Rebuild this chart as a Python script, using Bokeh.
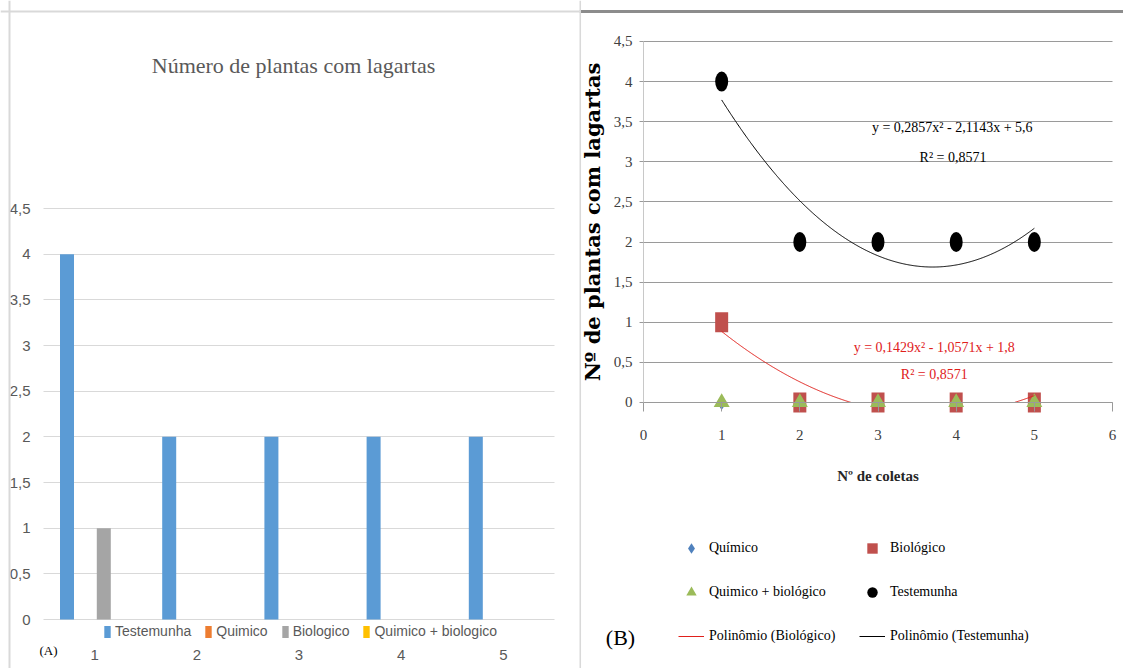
import numpy as np
from bokeh.plotting import figure
from bokeh.models import (ColumnDataSource, Legend, LegendItem, Label, Span, Grid,
                          CustomJSTickFormatter, FixedTicker, Range1d)
from bokeh.transform import dodge
from bokeh.layouts import row
from bokeh.embed import file_html
from bokeh.resources import INLINE

# ---------------- data ----------------
coletas = [1, 2, 3, 4, 5]
testemunha = [4, 2, 2, 2, 2]
quimico = [0, 0, 0, 0, 0]
biologico = [1, 0, 0, 0, 0]
quimico_biologico = [0, 0, 0, 0, 0]

bar_names = ["Testemunha", "Quimico", "Biologico", "Quimico + biologico"]
bar_colors = ["#5B9BD5", "#ED7D31", "#A5A5A5", "#FFC000"]
y_ticks = [0, 0.5, 1, 1.5, 2, 2.5, 3, 3.5, 4, 4.5]
x_ticks_b = [0, 1, 2, 3, 4, 5, 6]

title_a = "Número de plantas com lagartas"
eq_test = "y = 0,2857x² - 2,1143x + 5,6"
eq_bio = "y = 0,1429x² - 1,0571x + 1,8"
r2_text = "R² = 0,8571"

SANS = "Liberation Sans"
SERIF = "Liberation Serif"
HAS_CB = "cross_bounds" in Grid.properties()


def comma_fmt():
    return CustomJSTickFormatter(code="return tick.toString().replace('.', ',')")


# ---------------- panel A ----------------
src = ColumnDataSource(dict(c=coletas, t=testemunha, q=quimico, b=biologico, qb=quimico_biologico))
pa = figure(width=579, height=668, x_range=Range1d(0.0793, 5.7446), y_range=Range1d(-0.5365, 6.778),
            output_backend="svg", toolbar_location=None,
            min_border_left=0, min_border_right=0, min_border_top=0, min_border_bottom=0)
pa.outline_line_color = None
offsets = [-0.27, -0.09, 0.09, 0.27]
items_a = []
for col, off, colr, name in zip(["t", "q", "b", "qb"], offsets, bar_colors, bar_names):
    r = pa.vbar(x=dodge("c", off), top=col, width=0.137, source=src,
                fill_color=colr, line_color=None)
    items_a.append(LegendItem(label=name, renderers=[r]))

pa.xgrid.grid_line_color = None
if HAS_CB:
    pa.ygrid.grid_line_color = "#D9D9D9"
    pa.ygrid.ticker = FixedTicker(ticks=y_ticks)
    pa.ygrid.cross_bounds = (0.5, 5.5)
else:
    pa.ygrid.grid_line_color = None
    pa.segment(x0=0.5, x1=5.5, y0=y_ticks, y1=y_ticks, line_color="#D9D9D9", level="underlay")

pa.yaxis.fixed_location = 0.5
pa.yaxis.bounds = (0, 4.5)
pa.yaxis.ticker = FixedTicker(ticks=y_ticks)
pa.yaxis.formatter = comma_fmt()
pa.yaxis.major_label_standoff = 13
pa.xaxis.fixed_location = 0
pa.xaxis.bounds = (0.5, 5.5)
pa.xaxis.ticker = FixedTicker(ticks=coletas)
pa.xaxis.major_label_standoff = 30
for ax in (pa.xaxis[0], pa.yaxis[0]):
    ax.axis_line_color = None
    ax.major_tick_line_color = None
    ax.minor_tick_line_color = None
    ax.major_tick_out = 0
    ax.major_tick_in = 0
    ax.major_label_text_font = SANS
    ax.major_label_text_font_size = "15px"
    ax.major_label_text_color = "#595959"

leg_a = Legend(items=items_a, orientation="horizontal", location=(103, 29),
               glyph_width=8, glyph_height=15, label_standoff=4, spacing=13,
               padding=0, margin=0, border_line_color=None, background_fill_alpha=0,
               label_text_font=SANS, label_text_font_size="14px", label_text_color="#595959")
pa.add_layout(leg_a)

pa.add_layout(Label(x=2.946, y=6.066, text=title_a, text_align="center", text_baseline="middle",
                    text_font=SERIF, text_font_size="22px", text_color="#595959"))
pa.add_layout(Label(x=0.549, y=-0.339, text="(A)", text_align="center", text_baseline="middle",
                    text_font=SERIF, text_font_size="13px", text_color="#000000"))
# panel frame lines
pa.add_layout(Span(location=6.657, dimension="width", line_color="#D9D9D9", line_width=2))
pa.add_layout(Span(location=0.1673, dimension="height", line_color="#D9D9D9", line_width=2))

# ---------------- panel B ----------------
pb = figure(width=544, height=668, x_range=Range1d(-0.8187, 6.1405), y_range=Range1d(-3.316, 5.011),
            output_backend="svg", toolbar_location=None,
            min_border_left=0, min_border_right=0, min_border_top=0, min_border_bottom=0)
pb.outline_line_color = None

xb = np.array(coletas, dtype=float)
r_q = pb.scatter(xb, quimico, marker="diamond", size=15, fill_color="#4F81BD", line_color=None)
r_b = pb.rect(xb, biologico, width=13, height=20, width_units="screen", height_units="screen",
              fill_color="#C0504D", line_color=None)
r_qb = pb.scatter(xb, quimico_biologico, marker="triangle", size=16, fill_color="#9BBB59", line_color=None)
r_t = pb.ellipse(xb, testemunha, width=13, height=20, width_units="screen", height_units="screen",
                 fill_color="#000000", line_color=None)

xs = np.linspace(1, 5, 400)
fit_t = np.polyval(np.polyfit(xb, testemunha, 2), xs)
fit_b = np.polyval(np.polyfit(xb, biologico, 2), xs)
fit_b = np.where(fit_b < 0, np.nan, fit_b)
fit_t = np.where(fit_t < 0, np.nan, fit_t)
r_lb = pb.line(xs, fit_b, line_color="#E0201B", line_width=1)
r_lt = pb.line(xs, fit_t, line_color="#000000", line_width=1)

# legend proxies
p_sq = pb.scatter([np.nan], [np.nan], marker="square", size=12, fill_color="#C0504D", line_color=None)
p_ci = pb.scatter([np.nan], [np.nan], marker="circle", size=12, fill_color="#000000", line_color=None)

pb.xgrid.grid_line_color = None
if HAS_CB:
    pb.ygrid.grid_line_color = "#9a9a9a"
    pb.ygrid.ticker = FixedTicker(ticks=y_ticks)
    pb.ygrid.cross_bounds = (0, 6)
else:
    pb.ygrid.grid_line_color = None
    pb.segment(x0=0, x1=6, y0=y_ticks, y1=y_ticks, line_color="#9a9a9a", level="underlay")

pb.xaxis.fixed_location = 0
pb.xaxis.bounds = (0, 6)
pb.xaxis.ticker = FixedTicker(ticks=x_ticks_b)
pb.xaxis.axis_line_color = "#9a9a9a"
pb.xaxis.major_tick_line_color = "#9a9a9a"
pb.xaxis.major_tick_out = 9
pb.xaxis.major_tick_in = 0
pb.xaxis.minor_tick_line_color = None
pb.xaxis.major_label_standoff = 19
pb.yaxis.fixed_location = 0
pb.yaxis.bounds = (0, 4.5)
pb.yaxis.ticker = FixedTicker(ticks=y_ticks)
pb.yaxis.formatter = comma_fmt()
pb.yaxis.axis_line_color = "#c8c8c8"
pb.yaxis.major_tick_line_color = "#9a9a9a"
pb.yaxis.major_tick_out = 4
pb.yaxis.major_tick_in = 0
pb.yaxis.minor_tick_line_color = None
pb.yaxis.major_label_standoff = 7
for ax in (pb.xaxis[0], pb.yaxis[0]):
    ax.major_label_text_font = SERIF
    ax.major_label_text_font_size = "15px"
    ax.major_label_text_color = "#404040"
pb.xaxis.axis_label = "Nº de coletas"
pb.xaxis.axis_label_text_font = SERIF
pb.xaxis.axis_label_text_font_style = "bold"
pb.xaxis.axis_label_text_font_size = "15px"
pb.xaxis.axis_label_text_color = "#262626"
pb.xaxis.axis_label_standoff = 24
pb.yaxis.axis_label = "Nº de plantas com lagartas"
pb.yaxis.axis_label_text_font = "DejaVu Serif"
pb.yaxis.axis_label_text_font_style = "bold"
pb.yaxis.axis_label_text_font_size = "21px"
pb.yaxis.axis_label_text_color = "#000000"
pb.yaxis.axis_label_standoff = 6

for txt, x, y, col in [(eq_test, 3.95, 3.43, "#000000"), (r2_text, 3.96, 3.05, "#000000"),
                       (eq_bio, 3.72, 0.686, "#E0201B"), (r2_text, 3.72, 0.349, "#E0201B")]:
    pb.add_layout(Label(x=x, y=y, text=txt, text_align="center", text_baseline="middle",
                        text_font=SERIF, text_font_size="14px", text_color=col))

common = dict(orientation="vertical", glyph_width=26, glyph_height=28, label_standoff=5,
              spacing=16, padding=0, margin=0, border_line_color=None, background_fill_alpha=0,
              label_text_font=SERIF, label_text_font_size="14px", label_text_color="#000000")
leg_b1 = Legend(items=[LegendItem(label="Químico", renderers=[r_q]),
                       LegendItem(label="Quimico + biológico", renderers=[r_qb]),
                       LegendItem(label="Polinômio (Biológico)", renderers=[r_lb])],
                location=(99, 18), **common)
leg_b2 = Legend(items=[LegendItem(label="Biológico", renderers=[p_sq]),
                       LegendItem(label="Testemunha", renderers=[p_ci]),
                       LegendItem(label="Polinômio (Testemunha)", renderers=[r_lt])],
                location=(280, 18), **common)
pb.add_layout(leg_b1)
pb.add_layout(leg_b2)

pb.add_layout(Label(x=-0.294, y=-2.929, text="(B)", text_align="center", text_baseline="middle",
                    text_font=SERIF, text_font_size="22px", text_color="#000000"))
pb.add_layout(Span(location=4.874, dimension="width", line_color="#8c8c8c", line_width=3))
pb.add_layout(Span(location=-0.812, dimension="height", line_color="#D9D9D9", line_width=2))

layout = row(pa, pb, spacing=0)
open("out.html", "w").write(file_html(layout, INLINE))
